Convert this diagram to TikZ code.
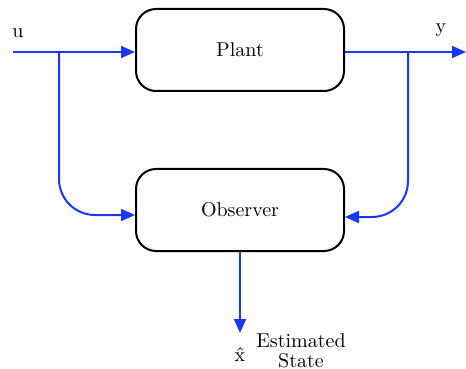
\documentclass[tikz,border=0pt]{standalone}
\usepackage{tikz}
\usetikzlibrary{arrows.meta, positioning}

\definecolor{sigblue}{RGB}{25,55,250}

\begin{document}
\begin{tikzpicture}[x=0.5pt, y=-0.5pt,
        block/.style={draw, line width=1pt, rounded corners=10pt, minimum width=104pt, minimum height=41pt},
        sig/.style={sigblue, line width=1pt, -{Triangle[length=7pt, width=6pt]}}]
        \useasboundingbox (0,0) rectangle (466,369);

        % Blocks
        \node[block] (plant) at (240,50) {Plant};
        \node[block] (observer) at (240,210) {Observer};

        % Input u
        \coordinate (uin) at (13,52);
        \coordinate (ubr) at (59,52);
        \node (ulabel) at (18,33) {u};
        \draw[sig] (uin) -- (uin -| plant.west);
        \draw[sig, rounded corners=18pt] (ubr) |- (observer.west |- 0,215);

        % Output y
        \coordinate (yout) at (466,52);
        \coordinate (ybr) at (408,52);
        \node (ylabel) at (441,30) {y};
        \draw[sig] (plant.east |- yout) -- (yout);
        \draw[sig, rounded corners=18pt] (ybr) |- (observer.east |- 0,217);

        % Estimated state
        \coordinate (est) at (240,333);
        \draw[sig] (observer.south) -- (est);
        \node[inner sep=0pt, anchor=base] (xhat) at (240,361) {\^{x}};
        \node[align=center, inner sep=0pt] (estlabel) at (301,351) {Estimated\\[-2pt]State};
\end{tikzpicture}
\end{document}
